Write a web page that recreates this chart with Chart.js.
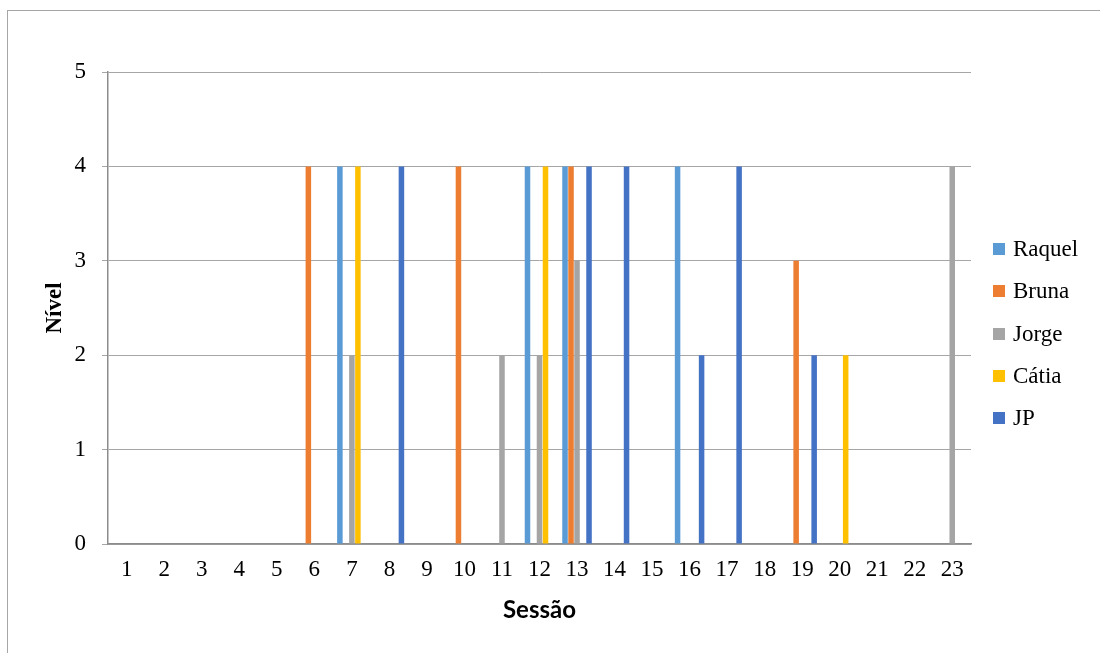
<!DOCTYPE html>
<html>
<head>
<meta charset="utf-8">
<script src="https://cdn.jsdelivr.net/npm/chart.js@4.4.1/dist/chart.umd.min.js"></script>
<style>
  html, body { margin: 0; padding: 0; background: #fff; overflow: hidden; }
  #wrap { position: relative; width: 1100px; height: 653px; overflow: hidden; }
  #frame { position: absolute; left: 7px; top: 10px; width: 1200px; height: 800px;
           border: 1px solid #a6a6a6; box-sizing: border-box; }
  canvas { position: absolute; left: 0; top: 0; }
  #legend { position: absolute; left: 993px; top: 228px; margin: 0; padding: 0; list-style: none;
            font-family: "Liberation Serif", "Times New Roman", serif; font-size: 23px; color: #000; }
  #legend li { height: 42.3px; display: flex; align-items: center; }
  #legend span.box { display: inline-block; width: 12px; height: 12px; margin-right: 8px; }
</style>
</head>
<body>
<div id="wrap">
  <div id="frame"></div>
  <canvas id="chart" width="1100" height="653"></canvas>
  <ul id="legend"></ul>
</div>
<script>
// Session numbers along the horizontal axis
const sessions = ['1','2','3','4','5','6','7','8','9','10','11','12','13','14','15','16','17','18','19','20','21','22','23'];

// Level reached by each participant in each session
const raquel = [0,0,0,0,0,0,4,0,0,0,0,4,4,0,0,4,0,0,0,0,0,0,0];
const bruna  = [0,0,0,0,0,4,0,0,0,4,0,0,4,0,0,0,0,0,3,0,0,0,0];
const jorge  = [0,0,0,0,0,0,2,0,0,0,2,2,3,0,0,0,0,0,0,0,0,0,4];
const catia  = [0,0,0,0,0,0,4,0,0,0,0,4,0,0,0,0,0,0,0,2,0,0,0];
const jp     = [0,0,0,0,0,0,0,4,0,0,0,0,4,4,0,2,4,0,2,0,0,0,0];

const seriesNames = ['Raquel', 'Bruna', 'Jorge', 'Cátia', 'JP'];
const seriesValues = [raquel, bruna, jorge, catia, jp];
const seriesColors = ['#5B9BD5', '#ED7D31', '#A5A5A5', '#FFC000', '#4472C4'];

const datasets = seriesNames.map((name, i) => ({
  label: name,
  data: seriesValues[i],
  backgroundColor: seriesColors[i],
  borderWidth: 0,
  categoryPercentage: 0.8,
  barPercentage: 0.92
}));

const serif = '"Liberation Serif", "Times New Roman", serif';

const chart = new Chart(document.getElementById('chart'), {
  type: 'bar',
  data: { labels: sessions, datasets },
  options: {
    responsive: false,
    animation: false,
    devicePixelRatio: 1,
    layout: { padding: { left: 0, right: 129, top: 72, bottom: 0 } },
    plugins: {
      legend: { display: false },
      tooltip: { enabled: false }
    },
    scales: {
      x: {
        grid: { display: false, drawTicks: false },
        border: { display: true, color: '#8c8c8c', width: 1.5 },
        ticks: { color: '#000', font: { family: serif, size: 23 }, padding: 12, maxRotation: 0, autoSkip: false },
        title: { display: true, text: 'Sessão', color: '#000',
                 font: { family: 'Lato, "Open Sans", sans-serif', size: 24, weight: 'bold' },
                 padding: { top: 0, bottom: 28 } },
        afterFit: (s) => { s.height = 109; }
      },
      y: {
        min: 0, max: 5,
        ticks: { stepSize: 1, color: '#000', font: { family: serif, size: 23 }, padding: 16 },
        grid: { color: '#a6a6a6', lineWidth: 1, tickLength: 6, drawTicks: true },
        border: { display: true, color: '#8c8c8c', width: 1.5 },
        title: { display: true, text: 'Nível', color: '#000',
                 font: { family: serif, size: 23, weight: 'bold' },
                 padding: { top: 41, bottom: 0 } },
        afterFit: (s) => { s.width = 108; }
      }
    }
  }
});

// Legend list built from the chart's own datasets
const legend = document.getElementById('legend');
chart.data.datasets.forEach((ds) => {
  const li = document.createElement('li');
  const box = document.createElement('span');
  box.className = 'box';
  box.style.background = ds.backgroundColor;
  li.appendChild(box);
  li.appendChild(document.createTextNode(ds.label));
  legend.appendChild(li);
});
</script>
</body>
</html>
